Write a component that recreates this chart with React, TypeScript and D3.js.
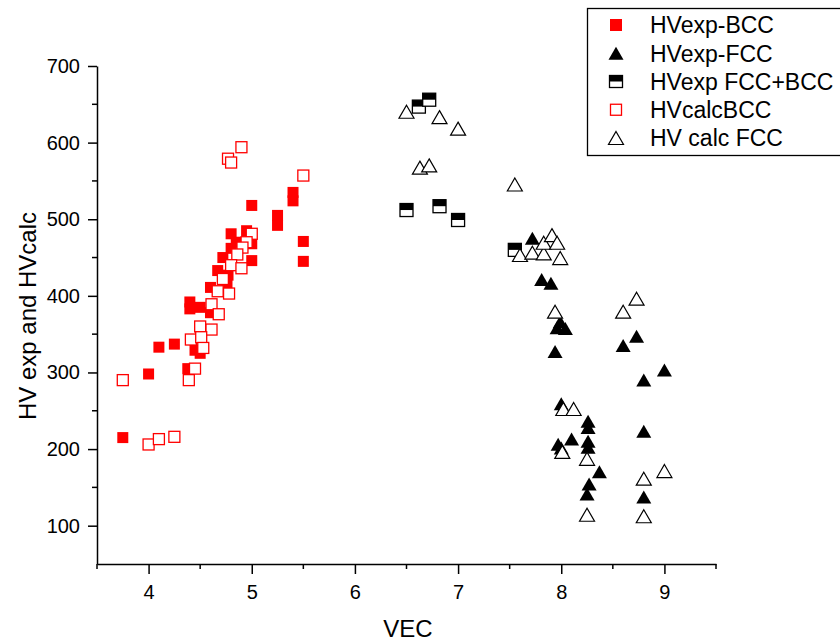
import React, { useRef, useEffect } from "react";
import * as d3 from "d3";

// HVexp-BCC (filled red squares) [VEC, HV]
const hvExpBCC: [number, number][] = [
  [3.75, 215], [4.0, 298], [4.1, 333], [4.25, 337], [4.4, 392], [4.4, 383],
  [4.38, 305], [4.45, 329], [4.5, 325], [4.5, 385], [4.6, 378], [4.6, 411],
  [4.67, 433], [4.72, 450], [4.76, 416], [4.77, 427], [4.8, 462], [4.8, 481],
  [4.85, 470], [4.95, 485], [5.0, 468], [5.0, 446], [5.0, 518], [5.25, 505],
  [5.25, 492], [5.4, 535], [5.4, 524], [5.5, 471], [5.5, 445],
];

// HVexp-FCC (filled black triangles)
const hvExpFCC: [number, number][] = [
  [7.72, 474], [7.81, 420], [7.9, 415], [7.99, 365], [7.96, 357], [8.04, 356],
  [7.94, 326], [8.0, 258], [8.26, 235], [8.26, 227], [8.26, 209], [8.26, 201],
  [8.1, 212], [7.97, 205], [8.0, 200], [8.37, 169], [8.27, 153], [8.25, 140],
  [8.6, 334], [8.73, 346], [8.8, 289], [9.0, 302], [8.8, 222], [8.8, 136],
];

// HVexp FCC+BCC (half filled squares)
const hvExpMixed: [number, number][] = [
  [6.62, 647], [6.72, 656], [6.5, 512], [6.82, 517], [7.0, 499], [7.55, 460],
];

// HVcalcBCC (open red squares)
const hvCalcBCC: [number, number][] = [
  [4.9, 594], [4.77, 579], [4.8, 574], [5.5, 557], [5.0, 481], [4.95, 470],
  [4.91, 463], [4.86, 454], [4.8, 440], [4.9, 436], [4.72, 422], [4.67, 406],
  [4.78, 403], [4.61, 389], [4.68, 376], [4.5, 360], [4.61, 356], [4.41, 343],
  [4.51, 346], [4.53, 332], [4.45, 305], [4.39, 290], [3.75, 290], [4.0, 206],
  [4.1, 213], [4.25, 216],
];

// HV calc FCC (open triangles)
const hvCalcFCC: [number, number][] = [
  [6.5, 639], [6.82, 632], [7.0, 617], [6.63, 566], [6.72, 569], [7.55, 544],
  [7.6, 452], [7.72, 455], [7.83, 454], [7.83, 468], [7.91, 478], [7.96, 468],
  [7.99, 448], [7.94, 378], [8.02, 251], [8.12, 251], [8.01, 195], [8.25, 186],
  [8.25, 113], [8.6, 378], [8.73, 395], [9.0, 170], [8.8, 160], [8.8, 111],
];

const xTicks = [4, 5, 6, 7, 8, 9];
const xMinor = [3.5, 4.5, 5.5, 6.5, 7.5, 8.5, 9.5];
const yTicks = [100, 200, 300, 400, 500, 600, 700];
const yMinor = [150, 250, 350, 450, 550, 650];

const legendLabels = [
  "HVexp-BCC",
  "HVexp-FCC",
  "HVexp FCC+BCC",
  "HVcalcBCC",
  "HV calc FCC",
];

const FONT = "'Liberation Sans', Arial, sans-serif";

const triPath = (cx: number, cy: number) =>
  `M${cx},${cy - 7.5}L${cx + 7.5},${cy + 5.5}L${cx - 7.5},${cy + 5.5}Z`;

const App = () => {
  const svgRef = useRef<SVGSVGElement>(null);

  useEffect(() => {
    const svg = d3.select(svgRef.current);
    svg.selectAll("*").remove();

    const x = d3.scaleLinear().domain([3.5, 9.5]).range([97, 716]);
    const y = d3.scaleLinear().domain([50, 700]).range([564, 66]);

    // axes
    const xAxis = svg
      .append("g")
      .attr("transform", `translate(0,${y(50)})`)
      .call(
        d3.axisBottom(x).tickValues(xTicks).tickFormat(d3.format("d"))
          .tickSize(10).tickPadding(11).tickSizeOuter(0)
      );
    xAxis.append("g").selectAll("line").data(xMinor).enter().append("line")
      .attr("x1", (d) => x(d)).attr("x2", (d) => x(d)).attr("y1", 0).attr("y2", 5)
      .attr("stroke", "#000").attr("stroke-width", 1.5);

    const yAxis = svg
      .append("g")
      .attr("transform", `translate(${x(3.5)},0)`)
      .call(d3.axisLeft(y).tickValues(yTicks).tickSize(9).tickPadding(8).tickSizeOuter(0));
    yAxis.append("g").selectAll("line").data(yMinor).enter().append("line")
      .attr("x1", 0).attr("x2", -5).attr("y1", (d) => y(d)).attr("y2", (d) => y(d))
      .attr("stroke", "#000").attr("stroke-width", 1.5);

    svg.selectAll(".domain").attr("stroke", "#000").attr("stroke-width", 1.5);
    svg.selectAll(".tick line").attr("stroke", "#000").attr("stroke-width", 1.5);
    svg.selectAll(".tick text")
      .attr("font-family", FONT).attr("font-size", 20).attr("fill", "#000");

    // axis titles
    svg.append("text")
      .attr("x", 408).attr("y", 637)
      .attr("text-anchor", "middle")
      .attr("font-family", FONT).attr("font-size", 24)
      .text("VEC");
    svg.append("text")
      .attr("transform", `translate(36,316) rotate(-90)`)
      .attr("text-anchor", "middle")
      .attr("font-family", FONT).attr("font-size", 24)
      .text("HV exp and HVcalc");

    const marks = svg.append("g");

    // filled red squares
    marks.append("g").selectAll("rect").data(hvExpBCC).enter().append("rect")
      .attr("x", (d) => x(d[0]) - 5.5).attr("y", (d) => y(d[1]) - 5.5)
      .attr("width", 11).attr("height", 11)
      .attr("fill", "#ff0000");

    // filled black triangles
    marks.append("g").selectAll("path").data(hvExpFCC).enter().append("path")
      .attr("d", (d) => triPath(x(d[0]), y(d[1])))
      .attr("fill", "#000");

    // half filled squares
    const mixed = marks.append("g").selectAll("g").data(hvExpMixed).enter().append("g");
    mixed.append("rect")
      .attr("x", (d) => x(d[0]) - 6.5).attr("y", (d) => y(d[1]) - 6.5)
      .attr("width", 13).attr("height", 13)
      .attr("fill", "#fff").attr("stroke", "#000").attr("stroke-width", 1.3);
    mixed.append("rect")
      .attr("x", (d) => x(d[0]) - 6.5).attr("y", (d) => y(d[1]) - 6.5)
      .attr("width", 13).attr("height", 6.5)
      .attr("fill", "#000");

    // open red squares
    marks.append("g").selectAll("rect").data(hvCalcBCC).enter().append("rect")
      .attr("x", (d) => x(d[0]) - 5.5).attr("y", (d) => y(d[1]) - 5.5)
      .attr("width", 11).attr("height", 11)
      .attr("fill", "#fff").attr("stroke", "#ff0000").attr("stroke-width", 1.3);

    // open triangles
    marks.append("g").selectAll("path").data(hvCalcFCC).enter().append("path")
      .attr("d", (d) => triPath(x(d[0]), y(d[1])))
      .attr("fill", "#fff").attr("stroke", "#000").attr("stroke-width", 1.2);

    // legend
    const legend = svg.append("g");
    legend.append("rect")
      .attr("x", 587.5).attr("y", 8.5).attr("width", 270).attr("height", 147)
      .attr("fill", "#fff").attr("stroke", "#000").attr("stroke-width", 1.3);

    const ly = d3.scalePoint().domain(legendLabels).range([25, 138]);
    const lx = 616;
    legendLabels.forEach((label, i) => {
      const cy = ly(label) as number;
      const item = legend.append("g");
      if (i === 0) {
        item.append("rect").attr("x", lx - 6).attr("y", cy - 6).attr("width", 12).attr("height", 12)
          .attr("fill", "#ff0000");
      } else if (i === 1) {
        item.append("path").attr("d", triPath(lx, cy + 1)).attr("fill", "#000");
      } else if (i === 2) {
        item.append("rect").attr("x", lx - 6.5).attr("y", cy - 6).attr("width", 13).attr("height", 12)
          .attr("fill", "#fff").attr("stroke", "#000").attr("stroke-width", 1.3);
        item.append("rect").attr("x", lx - 6.5).attr("y", cy - 6).attr("width", 13).attr("height", 6)
          .attr("fill", "#000");
      } else if (i === 3) {
        item.append("rect").attr("x", lx - 5.5).attr("y", cy - 5.5).attr("width", 11).attr("height", 11)
          .attr("fill", "#fff").attr("stroke", "#ff0000").attr("stroke-width", 1.3);
      } else {
        item.append("path").attr("d", triPath(lx, cy + 1))
          .attr("fill", "#fff").attr("stroke", "#000").attr("stroke-width", 1.2);
      }
      item.append("text")
        .attr("x", 650).attr("y", cy)
        .attr("dy", "0.36em")
        .attr("font-family", FONT).attr("font-size", 23)
        .text(label);
    });
  }, []);

  return (
    <svg
      ref={svgRef}
      width={840}
      height={642}
      style={{ position: "absolute", left: 0, top: 0, background: "#fff" }}
    ></svg>
  );
};

export default App;
